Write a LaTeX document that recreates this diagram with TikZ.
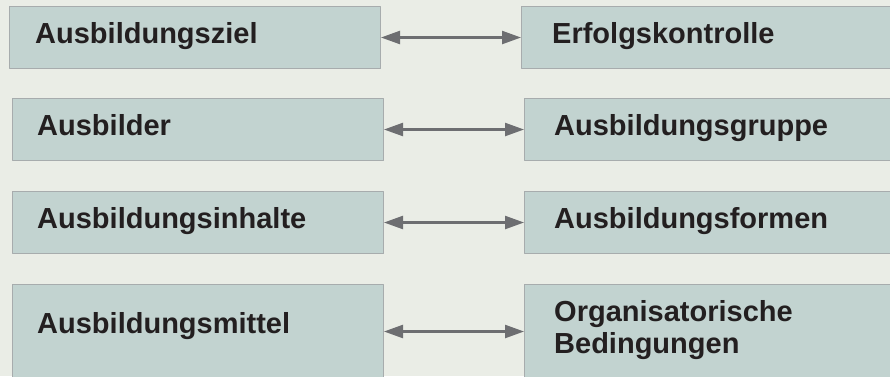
\documentclass[tikz,border=0pt]{standalone}
\usepackage{fontspec}
\setmainfont{Liberation Sans}
\usetikzlibrary{arrows.meta}
\definecolor{hgrund}{HTML}{EAEDE6}
\definecolor{kastenfarbe}{HTML}{C2D3D0}
\definecolor{rahmen}{HTML}{A7ACAD}
\definecolor{pfeilgrau}{HTML}{6D6E71}
\definecolor{schrift}{HTML}{231F20}
\tikzset{
  kasten/.style={draw=rahmen, fill=kastenfarbe, line width=1pt, minimum width=371pt, anchor=north west, inner sep=0pt},
  titel/.style={anchor=base west, inner sep=0pt, text=schrift, align=left, font=\bfseries\fontsize{29}{32}\selectfont},
  pfeil/.style={{Triangle[length=19pt,width=13pt]}-{Triangle[length=19pt,width=13pt]}, draw=pfeilgrau, line width=2.3pt}
}
\begin{document}
\begin{tikzpicture}[x=1pt, y=-1pt, line join=round]
  \clip (0,0) rectangle (890,376);
  \fill[hgrund] (0,0) rectangle (890,376);
  % Kaesten links und rechts
  \foreach \name/\x/\y/\h in {ziel/9/6/62, ausbilder/12/98/62, inhalte/12/191/62, mittel/12/284/94,
                              kontrolle/521/6/62, gruppe/524/98/62, formen/524/191/62, bedingungen/524/284/94}
    {\node[kasten, minimum height=\h pt] (\name) at (\x,\y) {};}
  % Beschriftungen
  \node[titel] (tziel) at ([xshift=26pt, yshift=-37pt]ziel.north west) {Ausbildungsziel};
  \node[titel] (tausbilder) at ([xshift=25pt, yshift=-37pt]ausbilder.north west) {Ausbilder};
  \node[titel] (tinhalte) at ([xshift=25pt, yshift=-37pt]inhalte.north west) {Ausbildungsinhalte};
  \node[titel] (tmittel) at ([xshift=25pt, yshift=-49pt]mittel.north west) {Ausbildungsmittel};
  \node[titel] (tkontrolle) at ([xshift=31pt, yshift=-37pt]kontrolle.north west) {Erfolgskontrolle};
  \node[titel] (tgruppe) at ([xshift=30pt, yshift=-37pt]gruppe.north west) {Ausbildungsgruppe};
  \node[titel] (tformen) at ([xshift=30pt, yshift=-37pt]formen.north west) {Ausbildungsformen};
  \node[titel] (tbedingungen) at ([xshift=30pt, yshift=-69pt]bedingungen.north west) {Organisatorische\\Bedingungen};
  % Doppelpfeile
  \foreach \a/\b in {ziel/kontrolle, ausbilder/gruppe, inhalte/formen, mittel/bedingungen}
    {\draw[pfeil] (\a.east) -- (\b.west);}
\end{tikzpicture}
\end{document}
